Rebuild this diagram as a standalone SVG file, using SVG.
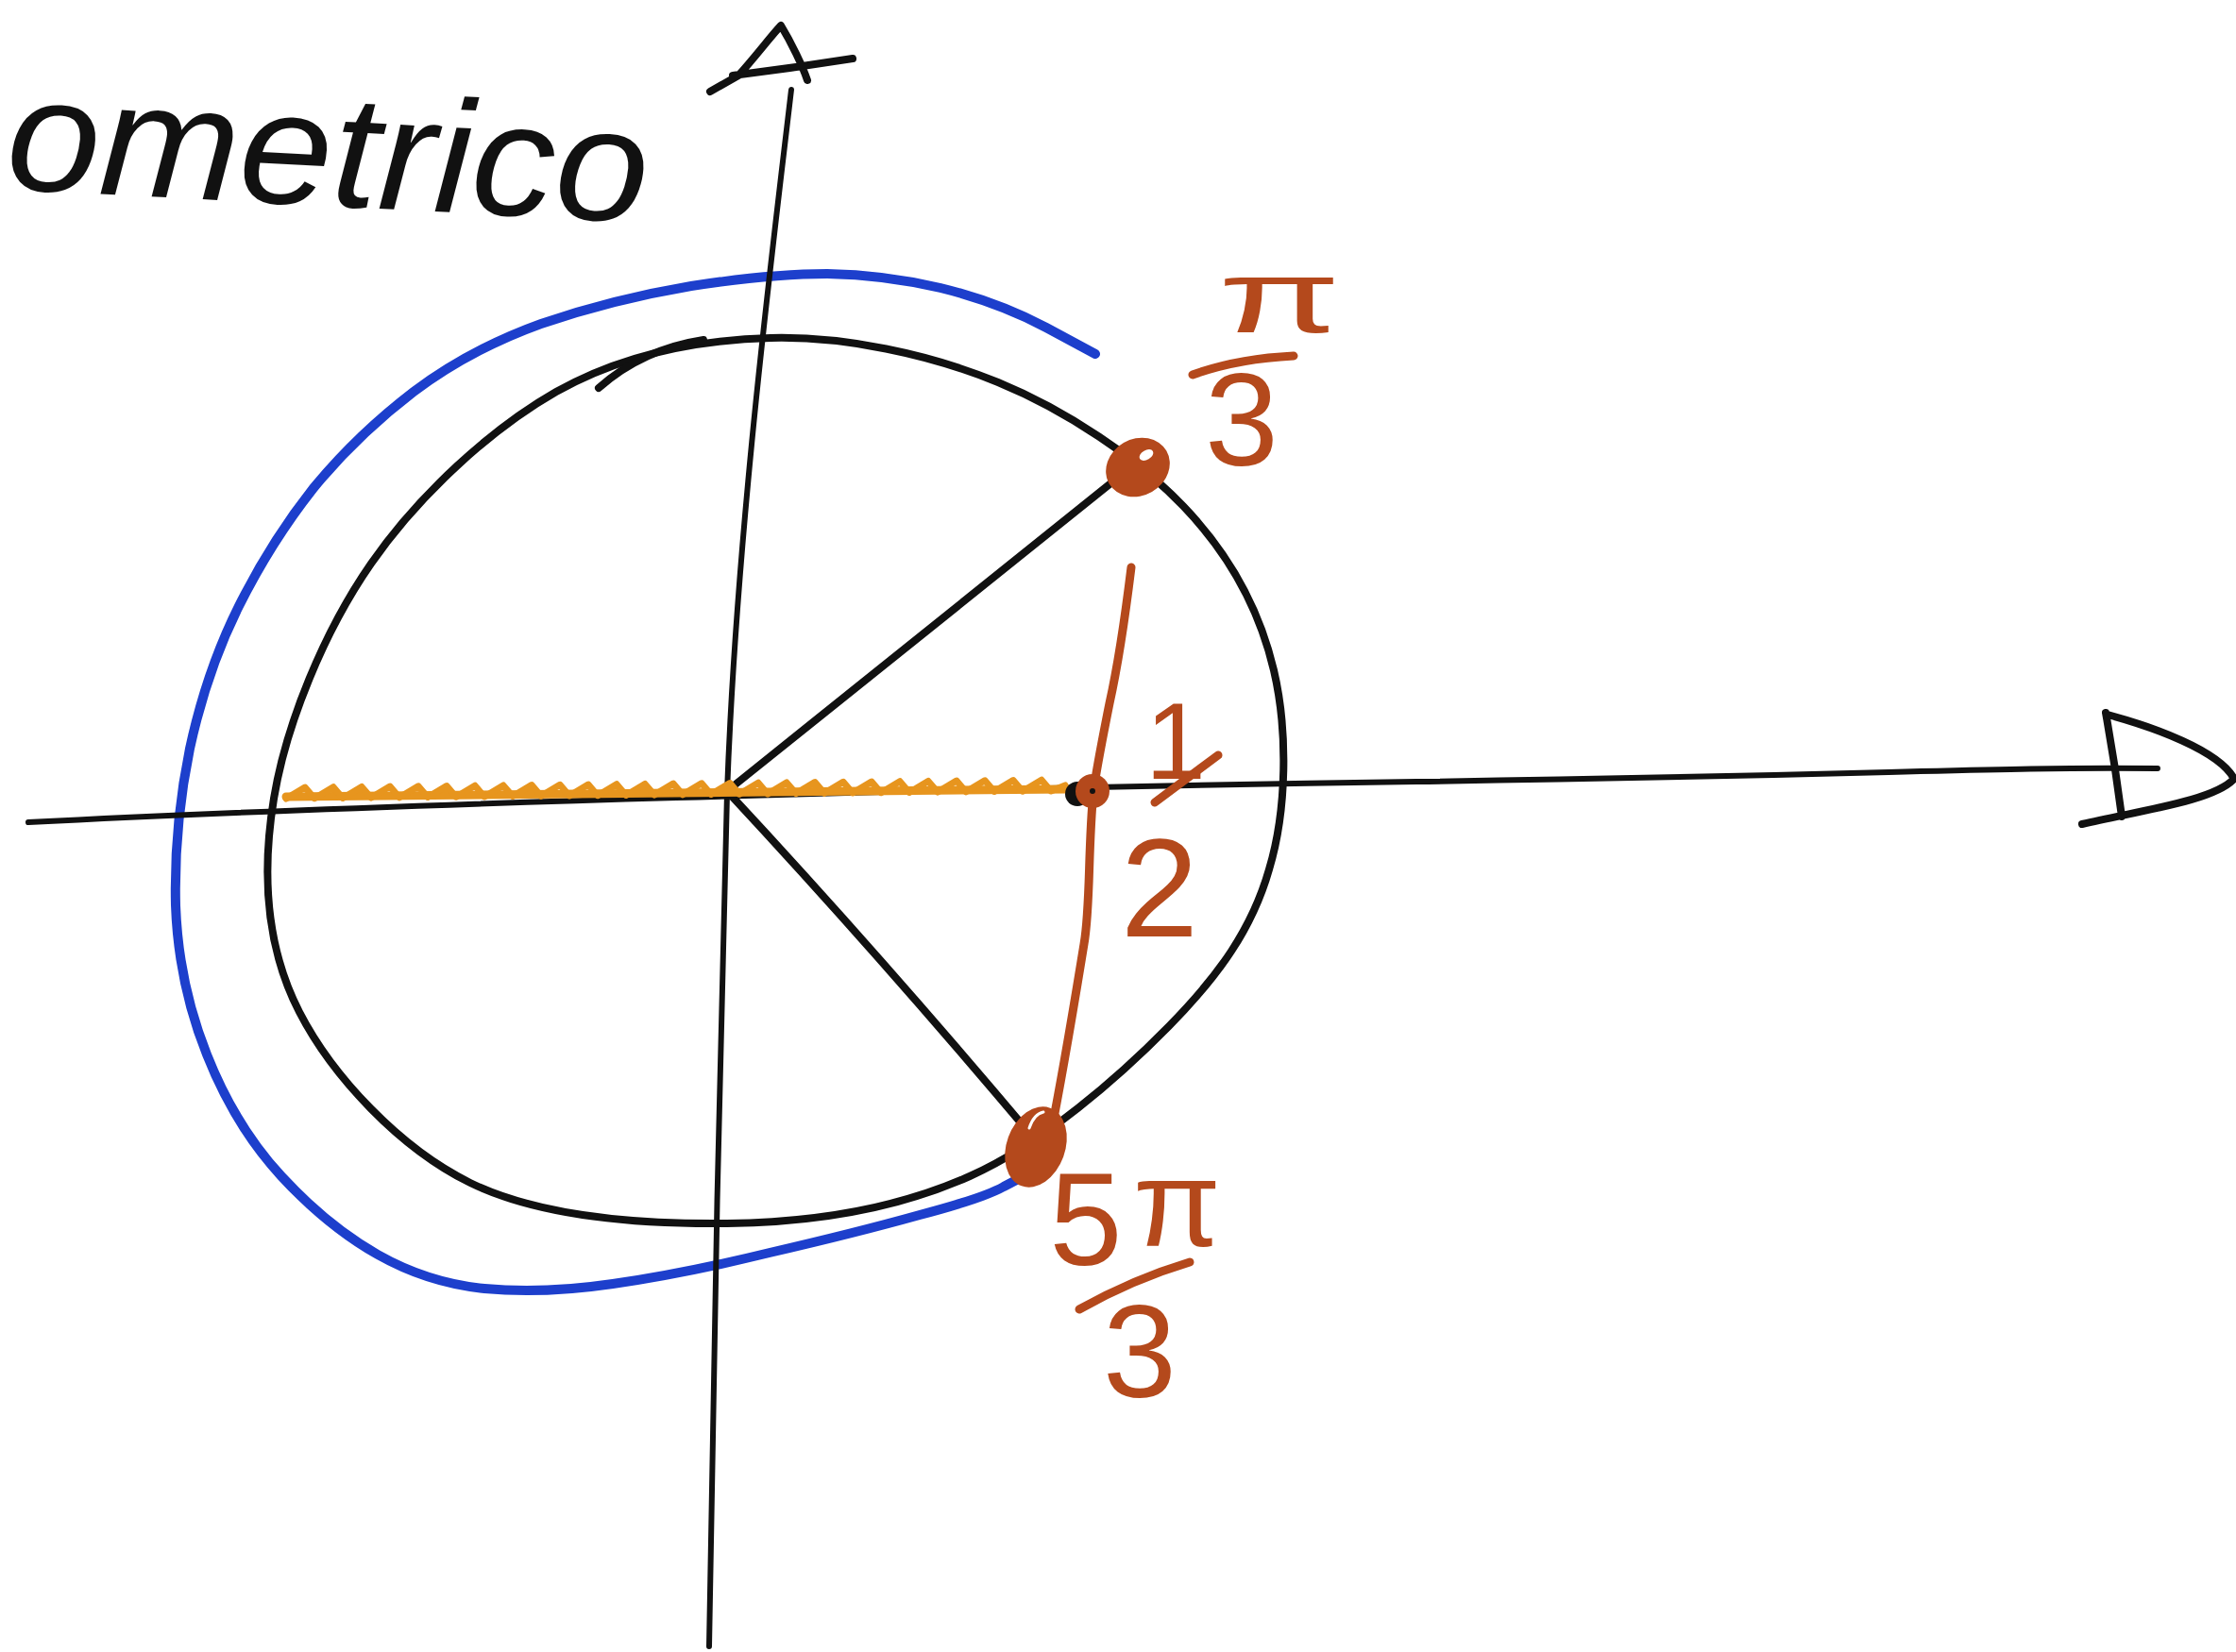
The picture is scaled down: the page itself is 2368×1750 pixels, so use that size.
<svg xmlns="http://www.w3.org/2000/svg" width="2368" height="1750" viewBox="0 0 2368 1750">
<style>
.ink{fill:none;stroke:#111;stroke-width:8;stroke-linecap:round;stroke-linejoin:round}
.axis{fill:none;stroke:#111;stroke-width:6;stroke-linecap:round;stroke-linejoin:round}
.blue{fill:none;stroke:#1d3fcc;stroke-width:10;stroke-linecap:round;stroke-linejoin:round}
.br{fill:none;stroke:#b4491c;stroke-width:9;stroke-linecap:round;stroke-linejoin:round}
.orng{fill:none;stroke:#e7951e;stroke-linecap:round;stroke-linejoin:round}
.lbl{fill:#b4491c;font-family:"Liberation Sans",Arial,sans-serif}
.title{fill:#111;font-family:"Liberation Sans",Arial,sans-serif;font-style:italic}
</style>
<rect width="2368" height="1750" fill="#fff"/>
<g id="title">
<text class="title" x="5" y="200" font-size="170" textLength="680" lengthAdjust="spacingAndGlyphs" transform="rotate(3 5 200)">ometrico</text>
</g>
<g id="blue-arc">
<path class="blue" d="M 1160 375 L 1108 347 Q 1057 320 996 305 Q 936 291 876 290 Q 816 290 732 303 Q 649 317 573 343 Q 498 370 438 415 Q 378 461 332 517 Q 287 574 253 642 Q 219 710 201 793 Q 184 876 186 959 Q 189 1042 219 1117 Q 249 1193 298 1246 Q 347 1299 400 1329 Q 453 1359 513 1365 Q 574 1371 649 1360 Q 725 1349 815 1327 Q 906 1306 974 1287 Q 1042 1269 1063 1257 L 1084 1246"/>
</g>
<g id="circle">
<path class="ink" d="M 816 358 C 894 356 984 375 1057 405 C 1130 435 1204 485 1253 536 C 1302 587 1334 646 1349 710 C 1364 774 1363 858 1344 921 C 1326 984 1291 1033 1238 1087 C 1185 1141 1105 1211 1027 1246 C 949 1281 858 1295 770 1296 C 682 1297 574 1290 498 1253 C 423 1216 352 1140 317 1072 C 282 1004 277 925 290 846 C 303 767 343 669 393 597 C 443 525 519 455 589 415 C 660 375 738 360 816 358 Z"/>
<path class="ink" stroke-width="6" d="M 634 411 Q 680 370 745 360"/>
</g>
<g id="axes">
<path class="axis" d="M 30 871 C 400 852 1000 835 1500 828 S 2100 812 2285 814"/>
<path class="ink" d="M 2230 755 Q 2240 810 2247 865 M 2232 757 C 2280 770 2350 795 2366 825 C 2345 848 2270 858 2205 873"/>
<path class="axis" stroke-width="7" d="M 751 1744 C 755 1500 762 1100 770 840 C 780 560 820 250 838 95"/>
<path class="ink" d="M 752 97 L 782 80 C 800 60 815 40 827 27 C 838 45 850 70 855 85 M 776 80 Q 840 72 903 62"/>
</g>
<g id="connectors">
<path class="ink" stroke-width="7" d="M 770 838 L 1195 497"/>
<path class="ink" stroke-width="7" d="M 770 838 Q 930 1010 1090 1200"/>
<path class="orng" stroke-width="9" d="M 303 844 L 1130 836"/>
<path class="orng" stroke-width="7" d="M 303 846 l 20 -12 10 11.7 20 -12 10 11.7 20 -12 10 11.7 20 -12 10 11.7 20 -12 10 11.7 20 -12 10 11.7 20 -12 10 11.7 20 -12 10 11.7 20 -12 10 11.7 20 -12 10 11.7 20 -12 10 11.7 20 -12 10 11.7 20 -12 10 11.7 20 -12 10 11.7 20 -12 10 11.7 20 -12 10 11.7 20 -12 10 11.7 20 -12 10 11.7 20 -12 10 11.7 20 -12 10 11.7 20 -12 10 11.7 20 -12 10 11.7 20 -12 10 11.7 20 -12 10 11.7 20 -12 10 11.7 20 -12 10 11.7 20 -12 10 11.7 15 -6"/>
<path class="br" d="M 1198 601 C 1192 650 1185 700 1175 745 C 1168 780 1162 810 1158 838 C 1152 900 1155 960 1148 1000 C 1135 1080 1125 1140 1112 1205"/>
</g>
<g id="point-pi3">
<ellipse cx="1205" cy="495" rx="35" ry="30" transform="rotate(-30 1205 495)" fill="#b4491c"/>
<ellipse cx="1214" cy="482" rx="8" ry="5" transform="rotate(-30 1214 482)" fill="#fff"/>
</g>
<g id="point-half">
<circle cx="1141" cy="841" r="13" fill="#111"/>
<circle cx="1157" cy="838" r="18" fill="#b4491c"/>
<circle cx="1157" cy="838" r="3" fill="#111"/>
</g>
<g id="point-5pi3">
<ellipse cx="1097" cy="1215" rx="31" ry="44" transform="rotate(20 1097 1215)" fill="#b4491c"/>
<path d="M 1090 1195 Q 1095 1180 1105 1178" fill="none" stroke="#fff" stroke-width="3" stroke-linecap="round"/>
</g>
<g id="label-pi3">
<text class="lbl" x="1290" y="352" font-size="110" textLength="130" lengthAdjust="spacingAndGlyphs">π</text>
<path class="br" stroke-width="10" d="M 1263 397 Q 1310 380 1370 377"/>
<text class="lbl" x="1315" y="493" font-size="140" text-anchor="middle">3</text>
</g>
<g id="label-half">
<text class="lbl" x="1245" y="825" font-size="115" text-anchor="middle">1</text>
<path class="br" stroke-width="10" d="M 1290 800 L 1223 850"/>
<text class="lbl" x="1228" y="992" font-size="148" text-anchor="middle">2</text>
</g>
<g id="label-5pi3">
<text class="lbl" x="1150" y="1340" font-size="139" text-anchor="middle">5</text>
<text class="lbl" x="1200" y="1320" font-size="130" textLength="93" lengthAdjust="spacingAndGlyphs">π</text>
<path class="br" stroke-width="10" d="M 1143 1387 Q 1200 1355 1260 1337"/>
<text class="lbl" x="1207" y="1480" font-size="140" text-anchor="middle">3</text>
</g>
</svg>
